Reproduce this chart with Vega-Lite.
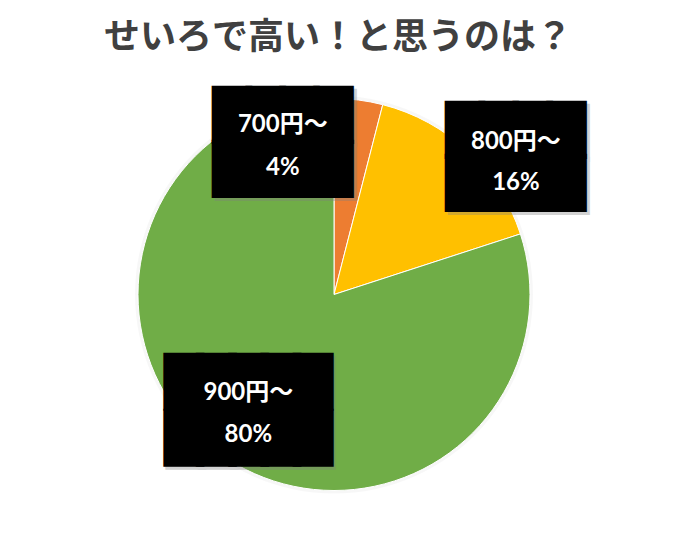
{
  "$schema": "https://vega.github.io/schema/vega-lite/v6.json",
  "width": 682,
  "height": 541,
  "autosize": {"type": "fit", "contains": "padding"},
  "padding": {"top": 24, "left": 0, "right": 14, "bottom": 13},
  "background": "white",
  "title": {
    "text": "せいろで高い！と思うのは？",
    "font": "Noto Sans CJK JP",
    "fontSize": 36,
    "fontWeight": "bold",
    "color": "#404040",
    "anchor": "middle",
    "dx": 4,
    "offset": 0
  },
  "data": {
    "values": [
      {"price": "700円～", "share": 0.04},
      {"price": "800円～", "share": 0.16},
      {"price": "900円～", "share": 0.8}
    ]
  },
  "encoding": {
    "theta": {"field": "share", "type": "quantitative", "stack": true},
    "order": {"field": "price"}
  },
  "layer": [
    {
      "mark": {"type": "arc", "outerRadius": 199, "color": "#000000", "opacity": 0.03}
    },
    {
      "mark": {"type": "arc", "outerRadius": 196, "stroke": "white", "strokeWidth": 1},
      "encoding": {
        "color": {
          "field": "price",
          "type": "nominal",
          "scale": {"domain": ["700円～", "800円～", "900円～"], "range": ["#ED7D31", "#FFC000", "#70AD47"]},
          "legend": null
        }
      }
    },
    {
      "mark": {"type": "text", "radius": 150, "dx": -67, "dy": -26, "font": "DejaVu Sans", "fontSize": 44, "lineHeight": 54, "color": "#7f7f7f", "stroke": "#7f7f7f", "strokeWidth": 6, "opacity": 0.35, "baseline": "middle"},
      "encoding": {"text": {"condition": {"test": "datum.price === '700円～'", "value": ["████", "████"]}, "value": ""}}
    },
    {
      "mark": {"type": "text", "radius": 150, "dx": -70, "dy": -29, "font": "DejaVu Sans", "fontSize": 44, "lineHeight": 54, "color": "black", "stroke": "black", "strokeWidth": 6, "baseline": "middle"},
      "encoding": {"text": {"condition": {"test": "datum.price === '700円～'", "value": ["████", "████"]}, "value": ""}}
    },
    {
      "mark": {"type": "text", "radius": 150, "dx": -70, "dy": -21, "font": "Lato, Noto Sans CJK JP", "fontSize": 24, "fontWeight": "bold", "color": "white", "baseline": "middle"},
      "encoding": {"text": {"condition": {"test": "datum.price === '700円～'", "field": "price"}, "value": ""}}
    },
    {
      "mark": {"type": "text", "radius": 150, "dx": -70, "dy": 22, "font": "Lato, Noto Sans CJK JP", "fontSize": 24, "fontWeight": "bold", "color": "white", "baseline": "middle"},
      "encoding": {"text": {"condition": {"test": "datum.price === '700円～'", "field": "share", "format": ".0%"}, "value": ""}}
    },
    {
      "mark": {"type": "text", "radius": 200, "dx": 48, "dy": -14, "font": "DejaVu Sans", "fontSize": 44, "lineHeight": 53, "color": "#7f7f7f", "stroke": "#7f7f7f", "strokeWidth": 6, "opacity": 0.35, "baseline": "middle"},
      "encoding": {"text": {"condition": {"test": "datum.price === '800円～'", "value": ["████", "████"]}, "value": ""}}
    },
    {
      "mark": {"type": "text", "radius": 200, "dx": 45, "dy": -17, "font": "DejaVu Sans", "fontSize": 44, "lineHeight": 53, "color": "black", "stroke": "black", "strokeWidth": 6, "baseline": "middle"},
      "encoding": {"text": {"condition": {"test": "datum.price === '800円～'", "value": ["████", "████"]}, "value": ""}}
    },
    {
      "mark": {"type": "text", "radius": 200, "dx": 45, "dy": -7, "font": "Lato, Noto Sans CJK JP", "fontSize": 24, "fontWeight": "bold", "color": "white", "baseline": "middle"},
      "encoding": {"text": {"condition": {"test": "datum.price === '800円～'", "field": "price"}, "value": ""}}
    },
    {
      "mark": {"type": "text", "radius": 200, "dx": 45, "dy": 34, "font": "Lato, Noto Sans CJK JP", "fontSize": 24, "fontWeight": "bold", "color": "white", "baseline": "middle"},
      "encoding": {"text": {"condition": {"test": "datum.price === '800円～'", "field": "share", "format": ".0%"}, "value": ""}}
    },
    {
      "mark": {"type": "text", "radius": 144, "dx": 1, "dy": -25, "font": "DejaVu Sans", "fontSize": 42, "lineHeight": 56, "color": "#7f7f7f", "stroke": "#7f7f7f", "strokeWidth": 8, "opacity": 0.35, "baseline": "middle"},
      "encoding": {"text": {"condition": {"test": "datum.price === '900円～'", "value": ["█████", "█████"]}, "value": ""}}
    },
    {
      "mark": {"type": "text", "radius": 144, "dx": -1, "dy": -28, "font": "DejaVu Sans", "fontSize": 42, "lineHeight": 56, "color": "black", "stroke": "black", "strokeWidth": 8, "baseline": "middle"},
      "encoding": {"text": {"condition": {"test": "datum.price === '900円～'", "value": ["█████", "█████"]}, "value": ""}}
    },
    {
      "mark": {"type": "text", "radius": 144, "dx": -1, "dy": -18, "font": "Lato, Noto Sans CJK JP", "fontSize": 24, "fontWeight": "bold", "color": "white", "baseline": "middle"},
      "encoding": {"text": {"condition": {"test": "datum.price === '900円～'", "field": "price"}, "value": ""}}
    },
    {
      "mark": {"type": "text", "radius": 144, "dx": -1, "dy": 24, "font": "Lato, Noto Sans CJK JP", "fontSize": 24, "fontWeight": "bold", "color": "white", "baseline": "middle"},
      "encoding": {"text": {"condition": {"test": "datum.price === '900円～'", "field": "share", "format": ".0%"}, "value": ""}}
    }
  ],
  "config": {"view": {"stroke": null}}
}
